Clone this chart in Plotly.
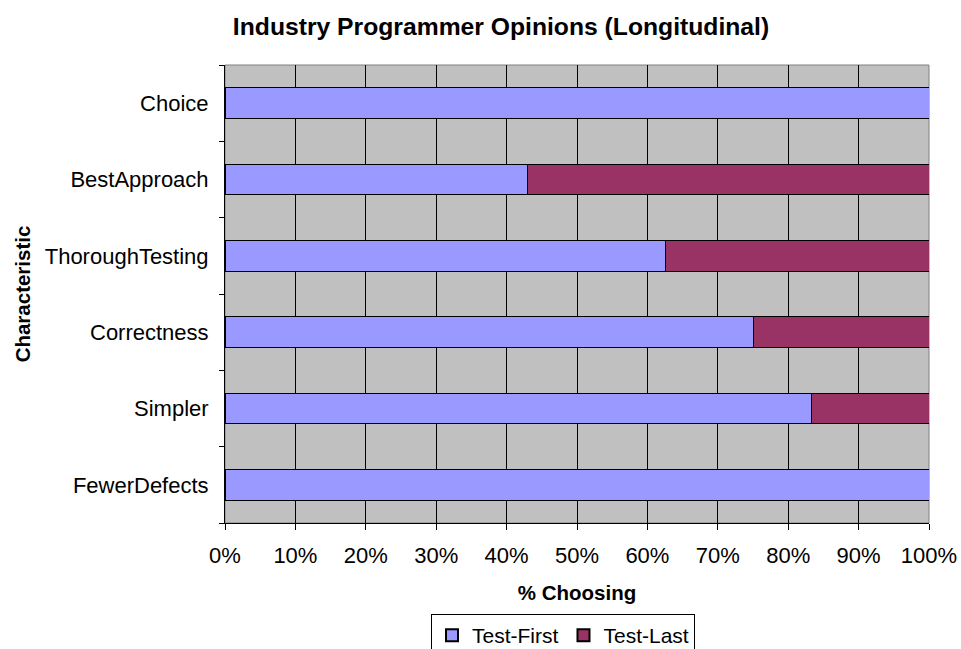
import plotly.graph_objects as go

# Survey characteristics, listed bottom to top
characteristics = ["FewerDefects", "Simpler", "Correctness", "ThoroughTesting", "BestApproach", "Choice"]
test_first = [100.0, 83.3, 75.0, 62.5, 42.9, 100.0]
test_last = [None, 16.7, 25.0, 37.5, 57.1, None]
x_ticks = [0, 10, 20, 30, 40, 50, 60, 70, 80, 90, 100]

FONT = "Liberation Sans, Arial, sans-serif"

fig = go.Figure()
fig.add_trace(go.Bar(
    y=characteristics, x=test_first, name="Test-First", orientation="h",
    marker=dict(color="#9999FF", line=dict(color="black", width=1)), width=0.4,
))
fig.add_trace(go.Bar(
    y=characteristics, x=test_last, name="Test-Last", orientation="h",
    marker=dict(color="#993366", line=dict(color="black", width=1)), width=0.4,
))

fig.update_layout(
    barmode="stack",
    width=961, height=649,
    margin=dict(l=225, r=32, t=65, b=126, autoexpand=False),
    paper_bgcolor="white",
    plot_bgcolor="#C0C0C0",
    font=dict(family=FONT, size=22, color="black"),
    title=dict(
        text="<b>Industry Programmer Opinions (Longitudinal)</b>",
        font=dict(family=FONT, size=24.7, color="black"),
        x=501 / 961, xref="container", xanchor="center",
        y=1 - 26 / 649, yref="container", yanchor="middle",
    ),
    xaxis=dict(
        range=[0, 100], tickvals=x_ticks, ticktext=[f"{v}%" for v in x_ticks],
        showgrid=False, zeroline=False, automargin=False,
        showline=True, linecolor="black", linewidth=1,
        ticks="outside", ticklen=6, tickcolor="black",
        ticklabelstandoff=7,
        tickfont=dict(size=22),
        minor=dict(tickvals=x_ticks[1:-1], showgrid=True, gridcolor="black", gridwidth=1, ticks=""),
        title=dict(text="<b>% Choosing</b>", font=dict(size=20.5), standoff=18),
        fixedrange=True,
    ),
    yaxis=dict(
        type="category", categoryorder="array", categoryarray=characteristics,
        showgrid=False, zeroline=False, automargin=False,
        showline=True, linecolor="black", linewidth=1,
        ticks="outside", ticklen=5, tickcolor="black", tickson="boundaries",
        ticklabelstandoff=11,
        tickfont=dict(size=22),
        title=dict(text="<b>Characteristic</b>", font=dict(size=20.5), standoff=8),
        fixedrange=True,
    ),
    legend=dict(
        orientation="h", traceorder="normal",
        x=563 / 961, xref="container", xanchor="center",
        y=1 - 614 / 649, yref="container", yanchor="top",
        bordercolor="black", borderwidth=1, bgcolor="white",
        font=dict(size=21), itemsizing="constant",
        itemwidth=30, tracegroupgap=0,
    ),
    shapes=[dict(
        type="rect", xref="paper", yref="paper", x0=0, x1=1, y0=0, y1=1,
        line=dict(color="#808080", width=1), fillcolor="rgba(0,0,0,0)", layer="below",
    )],
)

fig.write_html("out.html")
